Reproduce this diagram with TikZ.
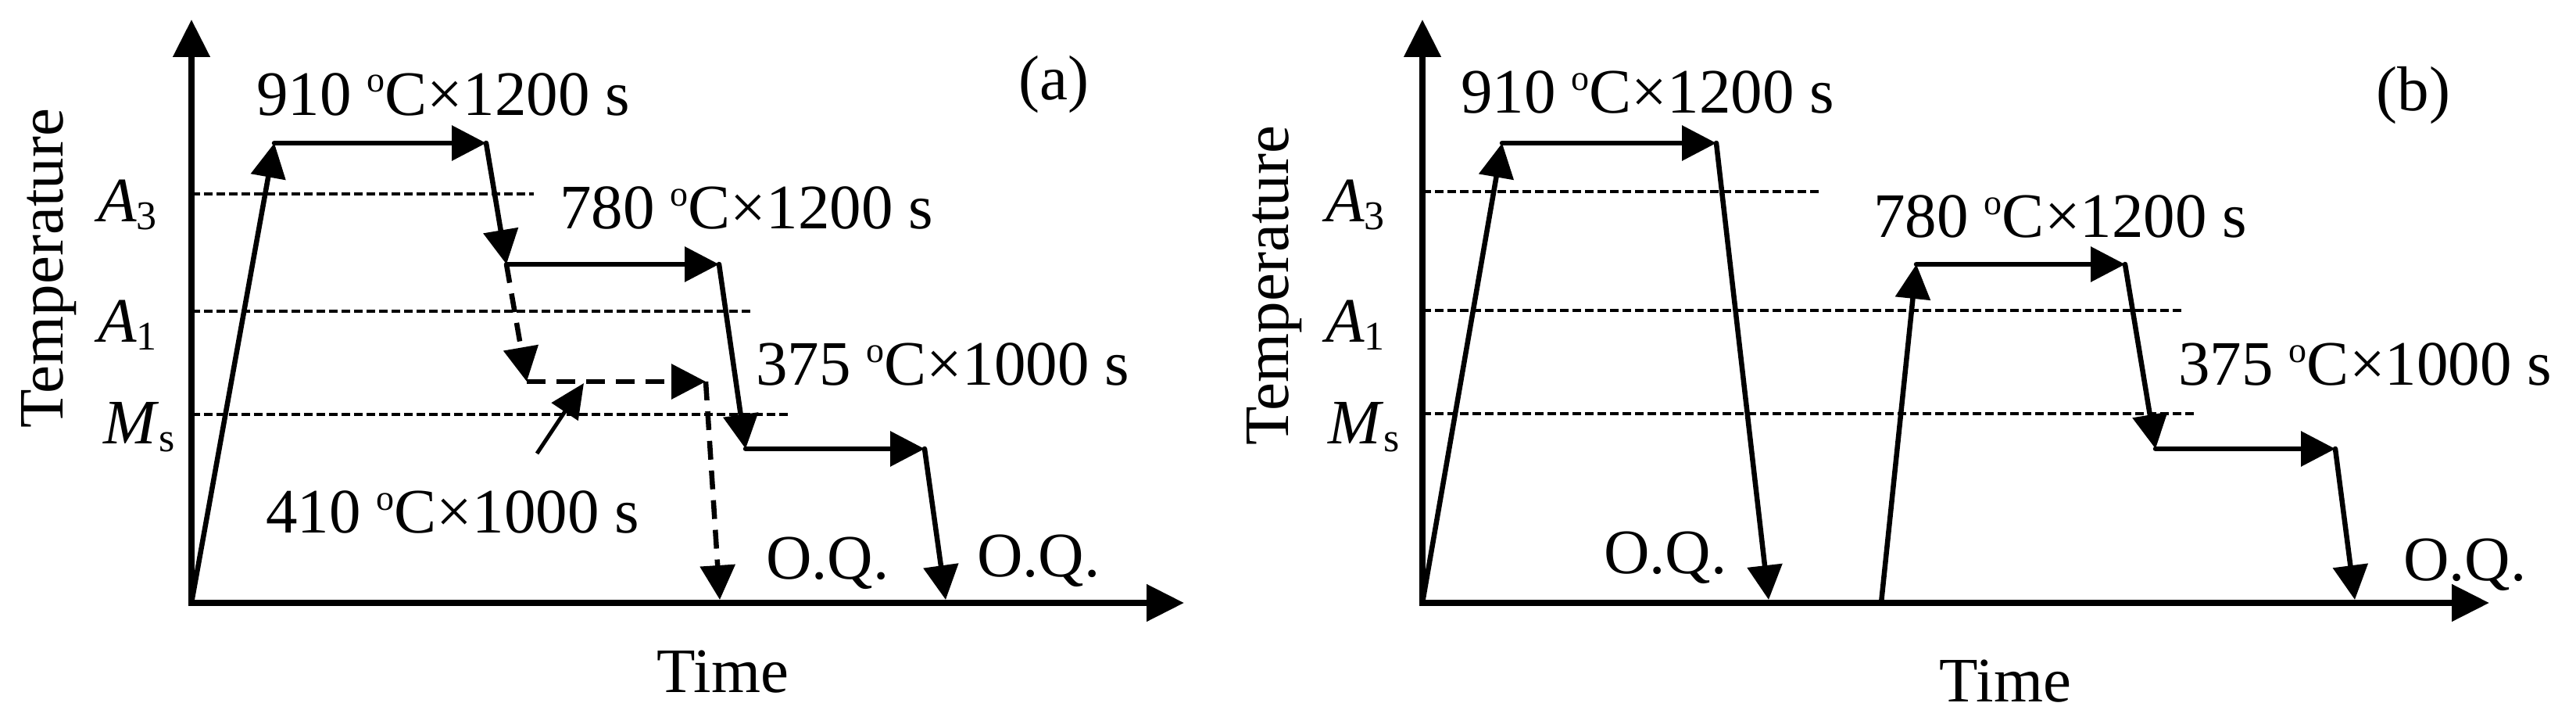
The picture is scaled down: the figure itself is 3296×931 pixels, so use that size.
\documentclass[tikz,border=0pt]{standalone}
\usepackage{fontspec}
\setmainfont{Liberation Serif}
\usetikzlibrary{arrows.meta}
\newcommand\degsup{\raisebox{29pt}{\fontsize{46}{50}\selectfont o}}
\newcommand\subsc[1]{\raisebox{-10pt}{\fontsize{52}{56}\selectfont #1}}
\newcommand\lblC[2]{#1 \degsup C×#2 s}
\begin{document}
\begin{tikzpicture}[x=1pt,y=-1pt,
  axisline/.style={line width=8pt, line cap=rect, -{Triangle[length=48pt,width=46pt]}},
  proc/.style={line width=6.5pt, line cap=round, -{Triangle[length=44pt,width=44pt]}},
  dproc/.style={proc, line cap=butt, dash pattern=on 24pt off 14pt},
  refline/.style={line width=4pt, dash pattern=on 11pt off 5pt},
  lbl/.style={font=\fontsize{81}{97}\selectfont, inner sep=0pt, anchor=base west},
  ctr/.style={lbl, anchor=base},
  ]
\useasboundingbox (0,0) rectangle (3296,931);
\fill[white] (0,0) rectangle (3296,931);

% ---------------- panel (a) ----------------
\coordinate (oa) at (245,771);
\coordinate (ya) at (245,25);
\coordinate (xa) at (1515,771);
\coordinate (a1) at (351,183);
\coordinate (a2) at (622,183);
\coordinate (a3) at (648,338);
\coordinate (a4) at (920,338);
\coordinate (a5) at (954,574);
\coordinate (a6) at (1183,574);
\coordinate (a7) at (1210,767);
\coordinate (d1) at (674,488);
\coordinate (d2) at (903,488);
\coordinate (d3) at (921,767);
\coordinate (pa) at (687,580);
\coordinate (pb) at (747,490);
\coordinate (ra3s) at (245,248); \coordinate (ra3e) at (683,248);
\coordinate (ra1s) at (245,398); \coordinate (ra1e) at (962,398);
\coordinate (rmss) at (245,530); \coordinate (rmse) at (1010,530);

\draw[refline] (ra3s) -- (ra3e);
\draw[refline] (ra1s) -- (ra1e);
\draw[refline] (rmss) -- (rmse);

\draw[axisline] (oa) -- (ya);
\draw[axisline] (oa) -- (xa);

\draw[proc] (oa) -- (a1);
\draw[proc] (a1) -- (a2);
\draw[proc] (a2) -- (a3);
\draw[proc] (a3) -- (a4);
\draw[proc] (a4) -- (a5);
\draw[proc] (a5) -- (a6);
\draw[proc] (a6) -- (a7);
\draw[dproc] (a3) -- (d1);
\draw[dproc] (d1) -- (d2);
\draw[dproc] (d2) -- (d3);
\draw[line width=5pt, -{Triangle[length=44pt,width=40pt]}] (pa) -- (pb);

\node[lbl] (t910a) at (328,147) {\lblC{910}{1200}};
\node[lbl] (t780a) at (716,292) {\lblC{780}{1200}};
\node[lbl] (t375a) at (967,492) {\lblC{375}{1000}};
\node[lbl] (t410a) at (340,681) {\lblC{410}{1000}};
\node[lbl] (oq1a) at (980,740) {O.Q.};
\node[lbl] (oq2a) at (1250,737) {O.Q.};
\node[ctr] (laba) at (1348,128) {(a)};
\node[ctr] (timea) at (925,885) {Time};
\node[ctr, rotate=90] (tempa) at (80,343) {Temperature};
\node[lbl] (A3a) at (125,283) {\textit{A}\subsc{3}};
\node[lbl] (A1a) at (125,437) {\textit{A}\subsc{1}};
\node[lbl] (Msa) at (132,567) {\textit{M}\subsc{s}};

% ---------------- panel (b) ----------------
\coordinate (ob) at (1820,771);
\coordinate (yb) at (1820,25);
\coordinate (xb) at (3185,771);
\coordinate (b1) at (1922,183);
\coordinate (b2) at (2196,183);
\coordinate (b3) at (2263,767);
\coordinate (b4) at (2407,771);
\coordinate (b5) at (2452,338);
\coordinate (b6) at (2719,338);
\coordinate (b7) at (2758,574);
\coordinate (b8) at (2988,574);
\coordinate (b9) at (3013,767);
\coordinate (rb3s) at (1820,245); \coordinate (rb3e) at (2328,245);
\coordinate (rb1s) at (1820,397); \coordinate (rb1e) at (2792,397);
\coordinate (rbms) at (1820,529); \coordinate (rbme) at (2810,529);

\draw[refline] (rb3s) -- (rb3e);
\draw[refline] (rb1s) -- (rb1e);
\draw[refline] (rbms) -- (rbme);

\draw[axisline] (ob) -- (yb);
\draw[axisline] (ob) -- (xb);

\draw[proc] (ob) -- (b1);
\draw[proc] (b1) -- (b2);
\draw[proc] (b2) -- (b3);
\draw[proc, line cap=butt] (b4) -- (b5);
\draw[proc] (b5) -- (b6);
\draw[proc] (b6) -- (b7);
\draw[proc] (b7) -- (b8);
\draw[proc] (b8) -- (b9);

\node[lbl] (t910b) at (1869,145) {\lblC{910}{1200}};
\node[lbl] (t780b) at (2397,303) {\lblC{780}{1200}};
\node[lbl] (t375b) at (2787,492) {\lblC{375}{1000}};
\node[lbl] (oq1b) at (2052,733) {O.Q.};
\node[lbl] (oq2b) at (3075,742) {O.Q.};
\node[ctr] (labb) at (3088,142) {(b)};
\node[ctr] (timeb) at (2566,897) {Time};
\node[ctr, rotate=90] (tempb) at (1648,365) {Temperature};
\node[lbl] (A3b) at (1696,283) {\textit{A}\subsc{3}};
\node[lbl] (A1b) at (1696,437) {\textit{A}\subsc{1}};
\node[lbl] (Msb) at (1699,567) {\textit{M}\subsc{s}};
\end{tikzpicture}
\end{document}
